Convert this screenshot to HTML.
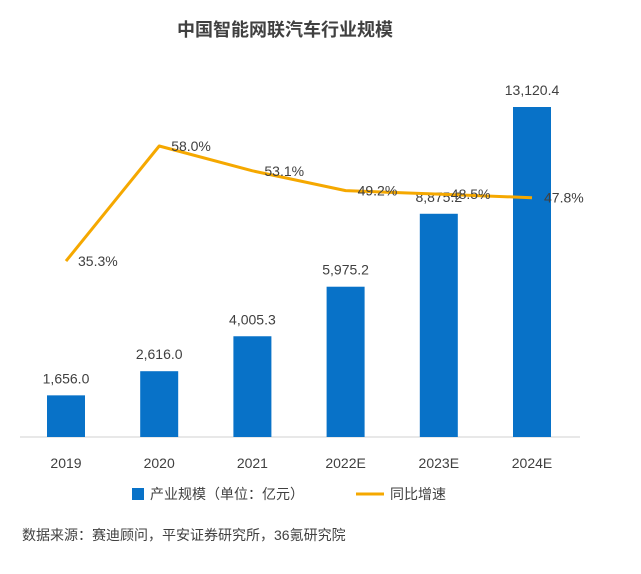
<!DOCTYPE html>
<html><head><meta charset="utf-8"><style>
body{margin:0;background:#fff;}
svg text{font-family:"Liberation Sans","Noto Sans CJK SC",sans-serif;}
</style></head><body>
<svg id="chart" width="641" height="569" xmlns="http://www.w3.org/2000/svg">
<text x="285" y="36" text-anchor="middle" font-size="18" font-weight="bold" fill="#404040">中国智能网联汽车行业规模</text>
<line x1="20" y1="437" x2="580" y2="437" stroke="#d0d0d0" stroke-width="1"/>
<g id="bars"></g>
<g id="xlabels"></g>
<g id="line"></g>
<g>
<rect x="132" y="488" width="12" height="12" fill="#0872C8"/>
<text x="150" y="499" font-size="14" fill="#404040">产业规模（单位：亿元）</text>
<line x1="356" y1="494" x2="384" y2="494" stroke="#F5A800" stroke-width="3"/>
<text x="390" y="499" font-size="14" fill="#404040">同比增速</text>
</g>
<text x="22" y="540" font-size="14" fill="#404040">数据来源：赛迪顾问，平安证券研究所，36氪研究院</text>
</svg>
<script>
const categories=["2019","2020","2021","2022E","2023E","2024E"];
const scaleValues=[1656.0,2616.0,4005.3,5975.2,8875.2,13120.4];
const scaleLabels=["1,656.0","2,616.0","4,005.3","5,975.2","8,875.2","13,120.4"];
const growthValues=[35.3,58.0,53.1,49.2,48.5,47.8];
const growthLabels=["35.3%","58.0%","53.1%","49.2%","48.5%","47.8%"];
const NS="http://www.w3.org/2000/svg";
const base=437;
function xPos(i){return 66+i*93.2;}
function yBar(v){return base-v*(330/13120.4);}
function yLine(v){return 146+(58-v)*5.07;}
function mk(t,a,p){const e=document.createElementNS(NS,t);for(const k in a)e.setAttribute(k,a[k]);p.appendChild(e);return e;}
const bars=document.getElementById('bars'),xl=document.getElementById('xlabels'),ln=document.getElementById('line');
categories.forEach((c,i)=>{
 const x=xPos(i),y=yBar(scaleValues[i]);
 const r=mk('rect',{x:x-19,y:y,width:38,height:base-y,fill:'#0872C8'},bars);
 
 
 const t=mk('text',{x:x,y:y-12,'text-anchor':'middle','font-size':14,fill:'#404040'},bars);
 t.textContent=scaleLabels[i];
 
 
 const l=mk('text',{x:x,y:468,'text-anchor':'middle','font-size':14,fill:'#404040'},xl);
 l.textContent=c;
 
 
});
const pts=growthValues.map((v,i)=>xPos(i)+','+yLine(v)).join(' ');
const pl=mk('polyline',{points:pts,fill:'none',stroke:'#F5A800','stroke-width':3,'stroke-linejoin':'round'},ln);


growthValues.forEach((v,i)=>{
 const t=mk('text',{x:xPos(i)+12,y:yLine(v)+5,'font-size':14,fill:'#404040'},ln);
 t.textContent=growthLabels[i];
 
 
});
</script>
</body></html>
